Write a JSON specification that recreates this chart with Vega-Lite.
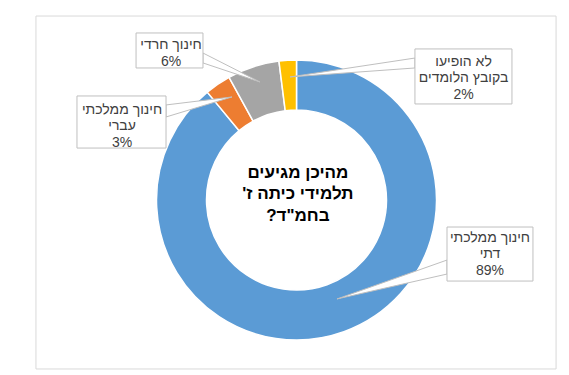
{
  "$schema": "https://vega.github.io/schema/vega-lite/v6.json",
  "width": 545,
  "height": 350,
  "autosize": {"type": "none"},
  "padding": {"left": 24, "top": 25, "right": 0, "bottom": 0},
  "background": "white",
  "config": {"view": {"stroke": null}, "font": "Liberation Sans"},
  "datasets": {
    "slices": [
      {"category": "חינוך ממלכתי דתי", "pct": 89, "ord": 1},
      {"category": "חינוך ממלכתי עברי", "pct": 3, "ord": 2},
      {"category": "חינוך חרדי", "pct": 6, "ord": 3},
      {"category": "לא הופיעו בקובץ הלומדים", "pct": 2, "ord": 4}
    ],
    "frame": [{"x1": -1.861, "x2": 1.854, "y1": 1.314, "y2": -1.207}],
    "wedges": [
      {"id": "A", "ux": -0.046, "uy": 0.879, "uy2": 0.879},
      {"id": "A", "ux": 0.846, "uy": 1.014, "uy2": 0.943},
      {"id": "B", "ux": -0.261, "uy": 0.843, "uy2": 0.843},
      {"id": "B", "ux": -0.668, "uy": 1.05, "uy2": 0.979},
      {"id": "C", "ux": -0.461, "uy": 0.736, "uy2": 0.736},
      {"id": "C", "ux": -0.932, "uy": 0.679, "uy2": 0.593},
      {"id": "D", "ux": 0.289, "uy": -0.707, "uy2": -0.707},
      {"id": "D", "ux": 1.075, "uy": -0.429, "uy2": -0.529}
    ],
    "boxes": [
      {"id": "A", "x1": 0.846, "x2": 1.539, "y1": 1.079, "y2": 0.686, "tx": 1.193, "ty": 0.986, "label": "לא הופיעו\nבקובץ הלומדים\n2%"},
      {"id": "B", "x1": -1.146, "x2": -0.668, "y1": 1.193, "y2": 0.943, "tx": -0.896, "ty": 1.107, "label": "חינוך חרדי\n6%"},
      {"id": "C", "x1": -1.568, "x2": -0.932, "y1": 0.743, "y2": 0.371, "tx": -1.246, "ty": 0.643, "label": "חינוך ממלכתי\nעברי\n3%"},
      {"id": "D", "x1": 1.075, "x2": 1.689, "y1": -0.193, "y2": -0.579, "tx": 1.382, "ty": -0.271, "label": "חינוך ממלכתי\nדתי\n89%"}
    ],
    "title": [{"tx": 0.01, "ty": 0.195, "label": "מהיכן מגיעים\nתלמידי כיתה ז'\u200f\nבחמ\"ד?\u200f"}]
  },
  "layer": [
    {
      "data": {"name": "frame"},
      "mark": {"type": "rect", "filled": false, "stroke": "#d9d9d9", "strokeWidth": 1},
      "encoding": {
        "x": {"field": "x1", "type": "quantitative", "scale": {"domain": [-1.9464, 1.9464], "nice": false, "zero": false}, "axis": null},
        "x2": {"field": "x2"},
        "y": {"field": "y1", "type": "quantitative", "scale": {"domain": [-1.25, 1.25], "nice": false, "zero": false}, "axis": null},
        "y2": {"field": "y2"}
      }
    },
    {
      "data": {"name": "slices"},
      "mark": {"type": "arc", "outerRadius": 140, "innerRadius": 90, "stroke": "white", "strokeWidth": 1.5},
      "encoding": {
        "theta": {"field": "pct", "type": "quantitative", "stack": true},
        "order": {"field": "ord", "type": "quantitative"},
        "color": {
          "field": "category", "type": "nominal", "legend": null,
          "scale": {
            "domain": ["חינוך ממלכתי דתי", "חינוך ממלכתי עברי", "חינוך חרדי", "לא הופיעו בקובץ הלומדים"],
            "range": ["#5B9BD5", "#ED7D31", "#A5A5A5", "#FFC000"]
          }
        }
      }
    },
    {
      "data": {"name": "wedges"},
      "mark": {"type": "area", "orient": "vertical", "color": "white", "stroke": "#bfbfbf", "strokeWidth": 1},
      "encoding": {
        "x": {"field": "ux", "type": "quantitative", "scale": {"domain": [-1.9464, 1.9464], "nice": false, "zero": false}, "axis": null},
        "y": {"field": "uy", "type": "quantitative", "scale": {"domain": [-1.25, 1.25], "nice": false, "zero": false}, "axis": null},
        "y2": {"field": "uy2"},
        "detail": {"field": "id", "type": "nominal"}
      }
    },
    {
      "data": {"name": "boxes"},
      "mark": {"type": "rect", "color": "white", "stroke": "#bfbfbf", "strokeWidth": 1},
      "encoding": {
        "x": {"field": "x1", "type": "quantitative", "scale": {"domain": [-1.9464, 1.9464], "nice": false, "zero": false}, "axis": null},
        "x2": {"field": "x2"},
        "y": {"field": "y1", "type": "quantitative", "scale": {"domain": [-1.25, 1.25], "nice": false, "zero": false}, "axis": null},
        "y2": {"field": "y2"}
      }
    },
    {
      "data": {"name": "boxes"},
      "mark": {"type": "text", "lineBreak": "\n", "fontSize": 14, "lineHeight": 16.5, "color": "#404040", "align": "center", "baseline": "middle"},
      "encoding": {
        "x": {"field": "tx", "type": "quantitative", "scale": {"domain": [-1.9464, 1.9464], "nice": false, "zero": false}, "axis": null},
        "y": {"field": "ty", "type": "quantitative", "scale": {"domain": [-1.25, 1.25], "nice": false, "zero": false}, "axis": null},
        "text": {"field": "label", "type": "nominal"}
      }
    },
    {
      "data": {"name": "title"},
      "mark": {"type": "text", "lineBreak": "\n", "fontSize": 17, "fontWeight": "bold", "lineHeight": 21.5, "color": "#000000", "align": "center", "baseline": "middle"},
      "encoding": {
        "x": {"field": "tx", "type": "quantitative", "scale": {"domain": [-1.9464, 1.9464], "nice": false, "zero": false}, "axis": null},
        "y": {"field": "ty", "type": "quantitative", "scale": {"domain": [-1.25, 1.25], "nice": false, "zero": false}, "axis": null},
        "text": {"field": "label", "type": "nominal"}
      }
    }
  ]
}
